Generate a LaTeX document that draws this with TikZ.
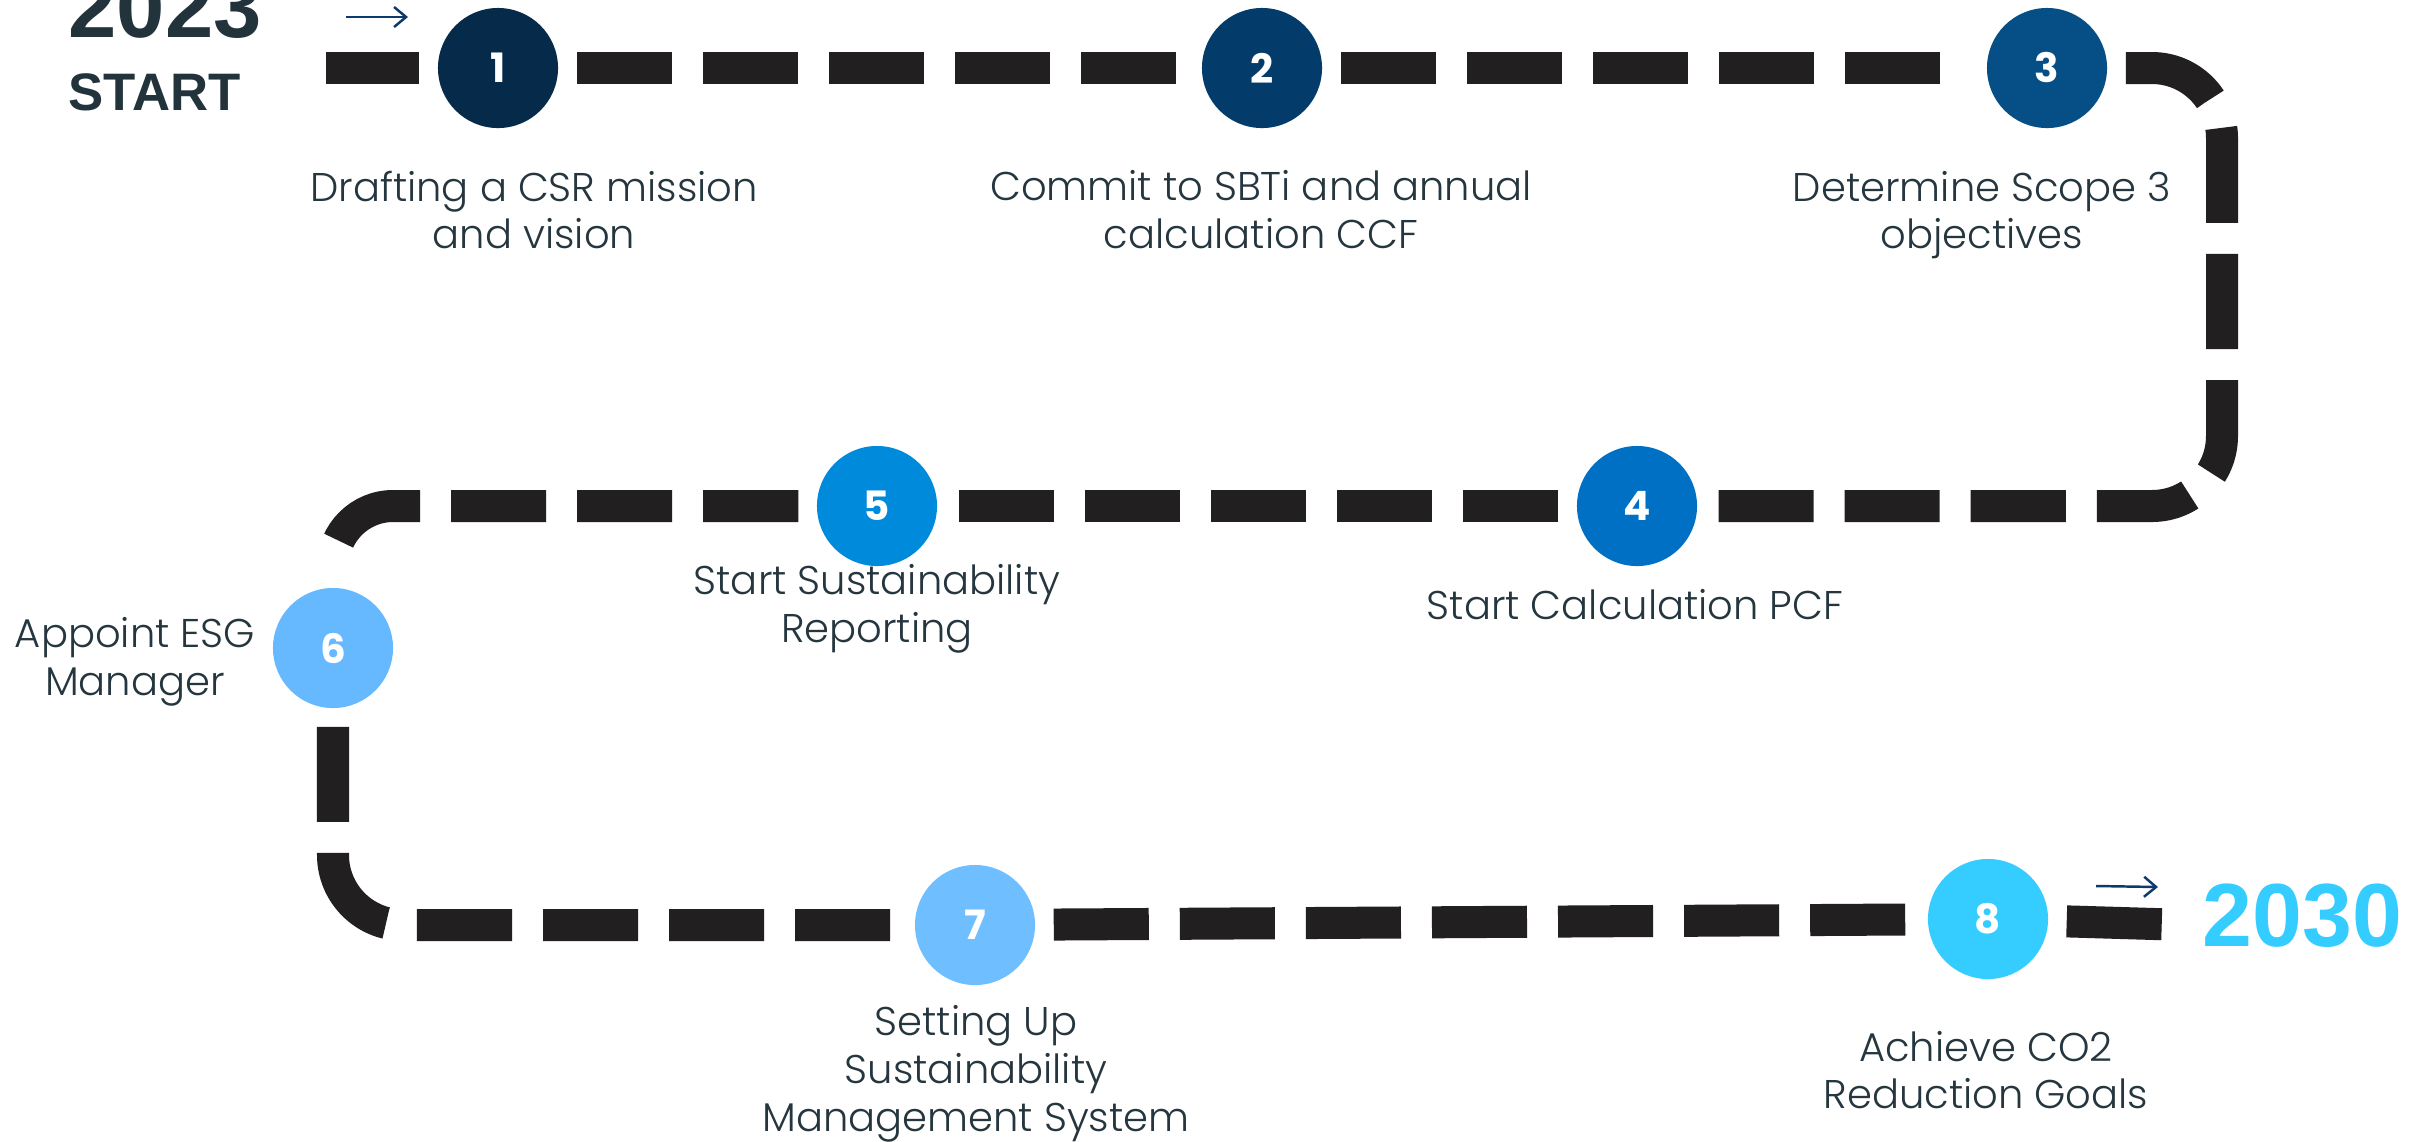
\documentclass[tikz,border=0pt]{standalone}
\usepackage{fontspec}
\setmainfont{Poppins}[UprightFont={* Light},BoldFont={* Bold}]
\newfontfamily\yearfont{Liberation Sans}
\usetikzlibrary{arrows.meta}

\definecolor{roadblack}{HTML}{221F20}
\definecolor{captiongray}{HTML}{25363F}
\definecolor{hintblue}{HTML}{0B3A6B}
\definecolor{yearslate}{HTML}{22333B}
\definecolor{stepone}{HTML}{052A4A}
\definecolor{steptwo}{HTML}{033C6B}
\definecolor{stepthree}{HTML}{064E86}
\definecolor{stepfour}{HTML}{0070C5}
\definecolor{stepfive}{HTML}{008ADB}
\definecolor{stepsix}{HTML}{66B9FF}
\definecolor{stepseven}{HTML}{6FBEFF}
\definecolor{stepeight}{HTML}{35CDFF}

\begin{document}
\begin{tikzpicture}[x=0.01cm,y=-0.01cm,
  road/.style={draw=roadblack,line width=0.32cm,dash pattern=on 0.95cm off 0.31cm,
    shorten <=0.18cm,shorten >=0.18cm,rounded corners=0.7cm},
  milestone/.style={circle,minimum size=1.2cm,inner sep=0pt,text=white,
    font=\bfseries\fontsize{11.5}{13}\selectfont},
  caption/.style={align=center,text=captiongray,font=\fontsize{11.4}{13.6}\selectfont},
  hint/.style={draw=hintblue,line width=0.7pt,-{Straight Barb[length=0.12cm,width=0.2cm]}}]
\fill[white] (0,0) rectangle (2426,1141);
\useasboundingbox (0,0) rectangle (2426,1141);

% corners and ends of the road
\coordinate (begin) at (308,68);
\coordinate (ne) at (2222,68);
\coordinate (se) at (2222,506);
\coordinate (nw) at (333,506);
\coordinate (sw) at (333,925);
\coordinate (finish) at (2188,925);

% milestones
\node[milestone,fill=stepone] (c1) at (498,68) {1};
\node[milestone,fill=steptwo] (c2) at (1262,68) {2};
\node[milestone,fill=stepthree] (c3) at (2047,68) {3};
\node[milestone,fill=stepfour] (c4) at (1637,506) {4};
\node[milestone,fill=stepfive] (c5) at (877,506) {5};
\node[milestone,fill=stepsix] (c6) at (333,648) {6};
\node[milestone,fill=stepseven] (c7) at (975,925) {7};
\node[milestone,fill=stepeight] (c8) at (1988,919) {8};

% the road between them
\draw[road] (begin) -- (c1);
\draw[road] (c1) -- (c2);
\draw[road] (c2) -- (c3);
\draw[road] (c3) -- (ne) -- (se) -- (c4);
\draw[road] (c4) -- (c5);
\draw[road,rounded corners=0.6cm] (c5) -- (nw) -- (c6);
\draw[road] (c6) -- (sw) -- (c7);
\draw[road] (c7) -- (c8);
\draw[road] (c8) -- (finish);

% step texts
\node[caption] (t1) at (534,210) {Drafting a CSR mission\\and vision};
\node[caption] (t2) at (1261,210) {Commit to SBTi and annual\\calculation CCF};
\node[caption] (t3) at (1982,215) {Determine Scope 3\\objectives};
\node[caption] (t4) at (1635,605) {Start Calculation PCF};
\node[caption] (t5) at (877,609) {Start Sustainability\\Reporting};
\node[caption] (t6) at (135,662) {Appoint ESG\\Manager};
\node[caption] (t7) at (976,1074) {Setting Up\\Sustainability\\Management System};
\node[caption] (t8) at (1986,1070) {Achieve CO2\\Reduction Goals};

% years
\node[anchor=base west,inner sep=0pt,text=yearslate,font=\yearfont\bfseries\fontsize{24.7}{26}\selectfont] (y1) at (68,37) {2023};
\node[anchor=base west,inner sep=0pt,text=yearslate,font=\yearfont\bfseries\fontsize{15}{17}\selectfont] (go) at (68,110) {START};
\node[anchor=west,inner sep=0pt,text=stepeight,font=\yearfont\bfseries\fontsize{25.5}{27}\selectfont] (y2) at (2202,916) {2030};

% little arrows
\coordinate (a1) at (346,17);
\coordinate (a2) at (408,17);
\coordinate (b1) at (2096,886);
\coordinate (b2) at (2158,887);
\draw[hint] (a1) -- (a2);
\draw[hint] (b1) -- (b2);
\end{tikzpicture}
\end{document}
